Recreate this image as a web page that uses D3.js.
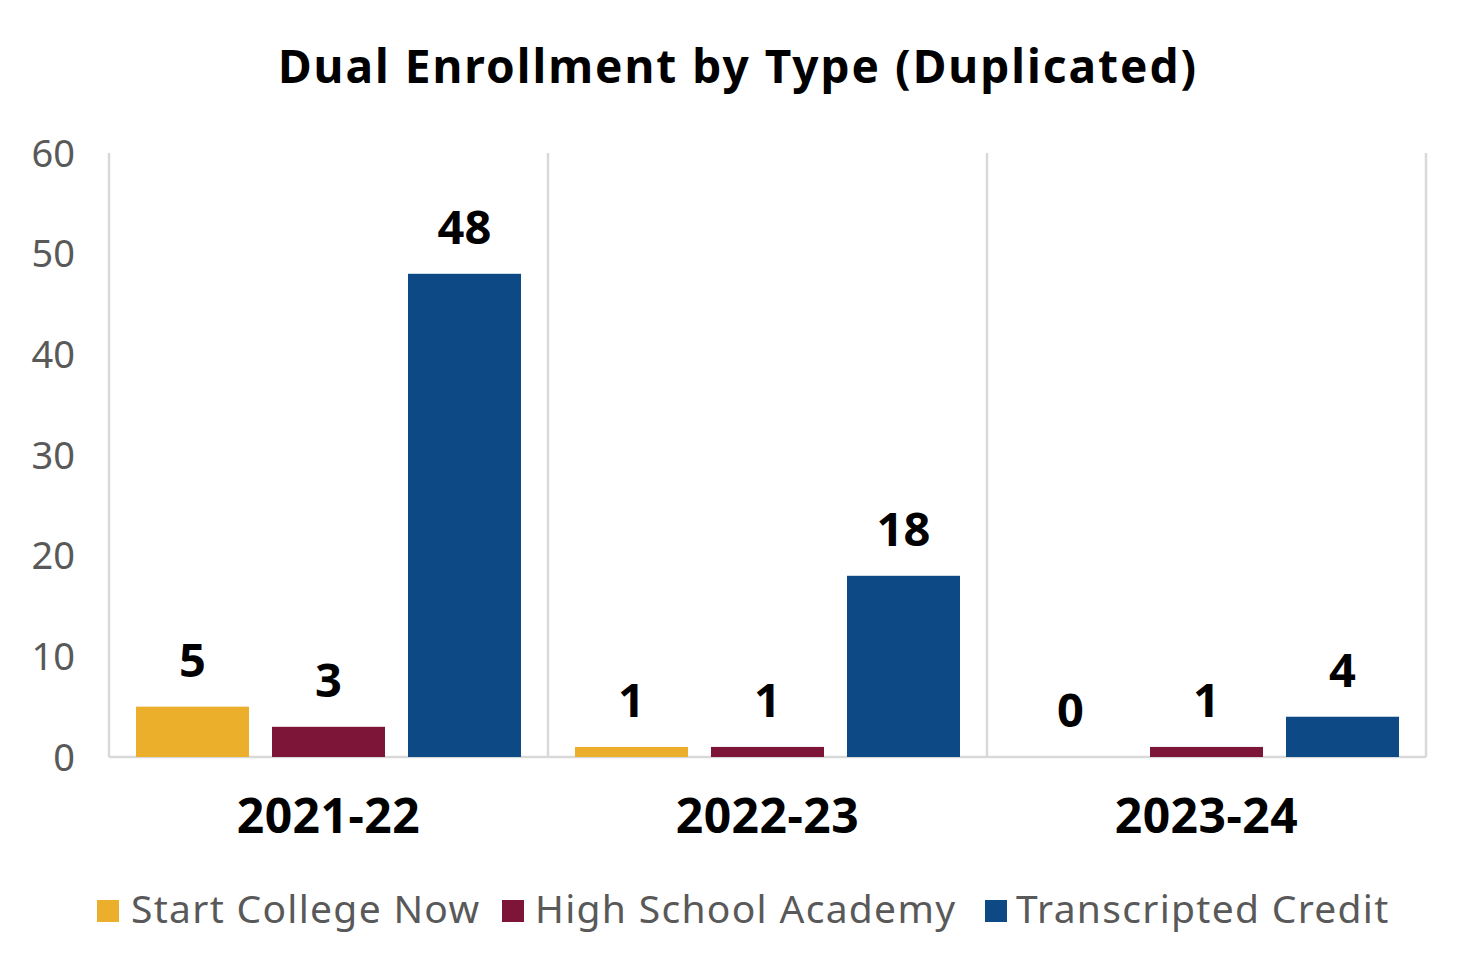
<!DOCTYPE html>
<html><head><meta charset="utf-8">
<script src="https://cdn.jsdelivr.net/npm/d3@7"></script>
<style>body{margin:0;background:#fff;font-family:"Noto Sans",sans-serif;}</style>
</head><body>
<svg id="c" width="1476" height="976"></svg>
<script>
const categories = ["2021-22","2022-23","2023-24"];
const seriesNames = ["Start College Now","High School Academy","Transcripted Credit"];
const startCollegeNow = [5,1,0];
const highSchoolAcademy = [3,1,1];
const transcriptedCredit = [48,18,4];
const yTicks = [0,10,20,30,40,50,60];
const colors = ["#EBAF2B","#7D1538","#0D4A85"];

const series = [startCollegeNow, highSchoolAcademy, transcriptedCredit];
const svg = d3.select("#c");
const FONT = "'Noto Sans',sans-serif";
const L=109, R=1426, T=153, B=757;
const x0 = d3.scaleBand().domain(categories).range([L,R]).paddingInner(0).paddingOuter(0);
const bw0 = x0.bandwidth();
const x1 = d3.scaleBand().domain(seriesNames).range([27,bw0-27]).paddingInner(0.169).paddingOuter(0);
const y = d3.scaleLinear().domain([0,60]).range([B,T]);

svg.append("text").attr("x",738).attr("y",83).attr("text-anchor","middle")
  .attr("font-size",46).attr("font-weight","bold").attr("fill","#000").attr("font-family",FONT)
  .attr("letter-spacing",2)
  .text("Dual Enrollment by Type (Duplicated)");

// vertical gridlines at category boundaries
const bounds = categories.map(c=>x0(c)).concat([R]);
svg.selectAll(".vg").data(bounds).enter().append("line")
  .attr("x1",d=>d).attr("x2",d=>d).attr("y1",T).attr("y2",B)
  .attr("stroke","#d9d9d9").attr("stroke-width",2.5);
svg.append("line").attr("x1",L).attr("x2",R).attr("y1",B).attr("y2",B)
  .attr("stroke","#d9d9d9").attr("stroke-width",2.5);

// y axis labels
const yAxis = d3.axisLeft(y).tickValues(yTicks).tickSize(0).tickPadding(34);
const ga = svg.append("g").attr("transform",`translate(${L},0)`).call(yAxis);
ga.select(".domain").remove();
ga.selectAll("text").attr("font-size",38).attr("fill","#595959").attr("font-family",FONT).attr("dy","0.35em");

// bars
categories.forEach((c,ci)=>{
  seriesNames.forEach((s,si)=>{
    const v = series[si][ci];
    const bx = x0(c)+x1(s);
    svg.append("rect").attr("x",bx).attr("y",y(v)).attr("width",x1.bandwidth()).attr("height",B-y(v)).attr("fill",colors[si]);
    svg.append("text").attr("x",bx+x1.bandwidth()/2).attr("y",y(v)-30).attr("text-anchor","middle")
      .attr("font-size",47).attr("font-weight","bold").attr("fill","#000").attr("font-family",FONT).text(v);
  });
  svg.append("text").attr("x",x0(c)+x0.bandwidth()/2).attr("y",833).attr("text-anchor","middle")
    .attr("font-size",48).attr("font-weight","bold").attr("fill","#000").attr("font-family",FONT)
    .attr("letter-spacing",0.5).text(c);
});

// legend
const legX = [97,502,985];
const legTX = [131,535,1016];
seriesNames.forEach((s,i)=>{
  svg.append("rect").attr("x",legX[i]).attr("y",900).attr("width",22).attr("height",22).attr("fill",colors[i]);
  svg.append("text").attr("x",legTX[i]).attr("y",923).attr("font-size",39).attr("fill","#595959").attr("font-family",FONT).attr("letter-spacing",1.3).text(s);
});
</script>
</body></html>
